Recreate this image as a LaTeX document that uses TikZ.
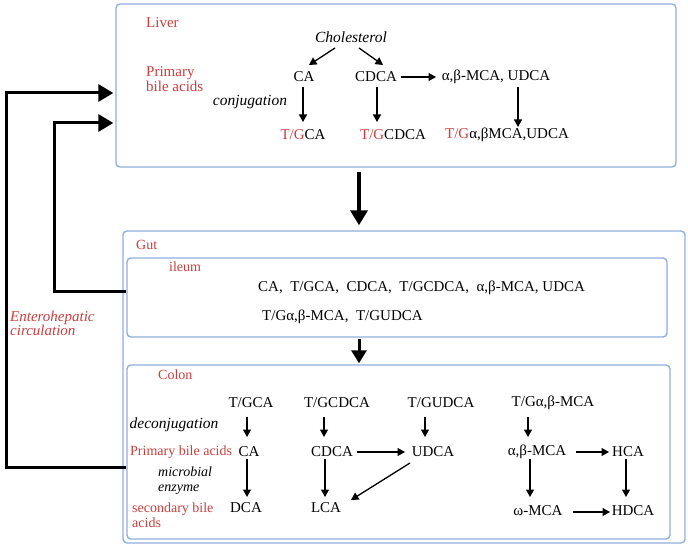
\documentclass[tikz,border=0pt]{standalone}
\usepackage{fontspec}
\setmainfont{Liberation Serif}
\usetikzlibrary{arrows.meta,calc}
\definecolor{lred}{RGB}{205,62,62}
\definecolor{lblue}{RGB}{145,175,222}
\begin{document}
\begin{tikzpicture}[x=1pt,y=-1pt,
  box/.style={draw=lblue, line width=1.4pt, rounded corners=4pt, inner sep=0pt},
  txt/.style={inner sep=1pt, font=\fontsize{15}{15}\selectfont},
  lab/.style={inner sep=1pt, font=\fontsize{15}{15}\selectfont, text=lred},
  slab/.style={inner sep=1pt, font=\fontsize{14}{15}\selectfont, text=lred},
  itl/.style={inner sep=1pt, font=\fontsize{15.5}{15}\selectfont\itshape},
  sitl/.style={inner sep=1pt, font=\fontsize{14}{14.5}\selectfont\itshape},
  ar/.style={line width=1.3pt, -{Triangle[length=7.5pt,width=8pt]}},
  bigar/.style={line width=3.5pt, -{Triangle[length=15pt,width=17pt]}},
  midar/.style={line width=3pt, -{Triangle[length=13pt,width=15pt]}},
  circ/.style={line width=3pt, -{Triangle[length=15pt,width=17pt]}}
]
\fill[white] (0,0) rectangle (688,545);
\useasboundingbox (0,0) rectangle (688,545);

% boxes
\node[box, minimum width=560, minimum height=163] (liver) at (396,85.5) {};
\node[box, minimum width=562, minimum height=312] (gut) at (404,387) {};
\node[box, minimum width=540, minimum height=79] (ileum) at (397,297.5) {};
\node[box, minimum width=543, minimum height=174] (colon) at (398.5,452) {};

% ---------- Liver ----------
\node[lab, anchor=west] (liverlab) at (145,23) {Liver};
\node[lab, anchor=west, align=left] (prim1) at (145,79.5) {Primary\\bile acids};
\node[itl] (chol) at (351,37) {Cholesterol};
\node[txt] (ca) at (304,77) {CA};
\node[txt] (cdca) at (376,77) {CDCA};
\node[txt] (ab) at (496,77) {α,β-MCA, UDCA};
\node[itl] (conj) at (250,102) {conjugation};
\node[txt] (tgca) at (303,135) {\textcolor{lred}{T/G}CA};
\node[txt] (tgcdca) at (393,135) {\textcolor{lred}{T/G}CDCA};
\node[txt] (tgab) at (507,135) {\textcolor{lred}{T/G}α,βMCA,UDCA};

\draw[ar] ($(chol)+(-16,11)$) -- ($(ca)+(5,-12)$);
\draw[ar] ($(chol)+(8,11)$) -- ($(cdca)+(7,-12)$);
\draw[ar] ($(cdca)+(25,0)$) -- ($(ab)+(-60,0)$);
\draw[ar] ($(ca)+(-1,10)$) -- ($(ca |- tgca)+(-1,-13)$);
\draw[ar] ($(cdca)+(1,10)$) -- ($(cdca |- tgcdca)+(1,-13)$);
\draw[ar] ($(ab)+(22,10)$) -- ($(ab |- tgab)+(22,-8)$);

% main arrows
\coordinate (mx) at (359,0);
\draw[bigar] ($(liver.south -| mx)+(0,4)$) -- ($(gut.north -| mx)+(0,-5)$);
\draw[midar] ($(ileum.south -| mx)+(0,1)$) -- ($(colon.north -| mx)+(0,-1)$);

% ---------- Gut / ileum ----------
\node[slab, anchor=west] (gutlab) at (135,245) {Gut};
\node[slab, anchor=west] (ileumlab) at (168,267) {ileum};
\node[txt, anchor=west] (il1) at (257,288) {CA,\ \ T/GCA,\ \ CDCA,\ \ T/GCDCA,\ \ α,β-MCA, UDCA};
\node[txt, anchor=west] (il2) at (261,317) {T/Gα,β-MCA,\ \ T/GUDCA};

% ---------- Colon ----------
\node[slab, anchor=west] (colonlab) at (157,375) {Colon};
\node[itl] (deconj) at (174,425) {deconjugation};
\node[slab, anchor=west] (prim2) at (129,452) {Primary bile acids};
\node[sitl, anchor=west, align=left] (micro) at (157,480.5) {microbial\\enzyme};
\node[slab, anchor=west, align=left] (sec) at (131,515.5) {secondary bile\\acids};

\node[txt] (tgca2) at (251,403) {T/GCA};
\node[txt] (tgcdca2) at (337,403) {T/GCDCA};
\node[txt] (tgudca2) at (441,403) {T/GUDCA};
\node[txt] (tgab2) at (553,403) {T/Gα,β-MCA};

\node[txt] (ca2) at (249,452) {CA};
\node[txt] (cdca2) at (332,452) {CDCA};
\node[txt] (udca2) at (433,452) {UDCA};
\node[txt] (ab2) at (537,452) {α,β-MCA};
\node[txt] (hca2) at (628,452) {HCA};

\node[txt] (dca2) at (246,508) {DCA};
\node[txt] (lca2) at (326,508) {LCA};
\node[txt] (om2) at (538,511) {ω-MCA};
\node[txt] (hdca2) at (633,511) {HDCA};

\draw[ar] ($(tgca2)+(-4,14)$) -- ($(tgca2 |- ca2)+(-4,-15)$);
\draw[ar] ($(tgcdca2)+(-13,14)$) -- ($(tgcdca2 |- cdca2)+(-13,-15)$);
\draw[ar] ($(tgudca2)+(-16,14)$) -- ($(tgudca2 |- udca2)+(-16,-15)$);
\draw[ar] ($(tgab2)+(-25,14)$) -- ($(tgab2 |- ab2)+(-25,-15)$);

\draw[ar] ($(ca2)+(-2,7)$) -- ($(ca2 |- dca2)+(-2,-11)$);
\draw[ar] ($(cdca2)+(-7,7)$) -- ($(cdca2 |- lca2)+(-7,-11)$);
\draw[ar] ($(ab2)+(-7,7)$) -- ($(ab2 |- om2)+(-7,-14)$);
\draw[ar] ($(hca2)+(-2,7)$) -- ($(hca2 |- hdca2)+(-2,-14)$);

\draw[ar] ($(cdca2)+(25,0)$) -- ($(udca2)+(-28,0)$);
\draw[ar] ($(ab2)+(39,0)$) -- ($(hca2)+(-19,0)$);
\draw[ar] ($(om2)+(35,1)$) -- ($(hdca2)+(-23,1)$);
\draw[ar] ($(udca2)+(-23,11)$) -- ($(lca2)+(25,-8)$);

% ---------- Enterohepatic circulation ----------
\node[inner sep=1pt, font=\fontsize{15}{13.5}\selectfont\itshape, text=lred, anchor=west, align=left] (ehc) at (9,323.5) {Enterohepatic\\circulation};
\coordinate (o1) at (6,467);
\coordinate (o2) at (6,93);
\coordinate (i1) at (54,292);
\coordinate (i2) at (54,123);
\draw[circ] (colon.west |- o1) -- (o1) -- (o2) -- ($(liver.west |- o2)+(-2,0)$);
\draw[circ] (ileum.west |- i1) -- (i1) -- (i2) -- ($(liver.west |- i2)+(-2,0)$);
\end{tikzpicture}
\end{document}
